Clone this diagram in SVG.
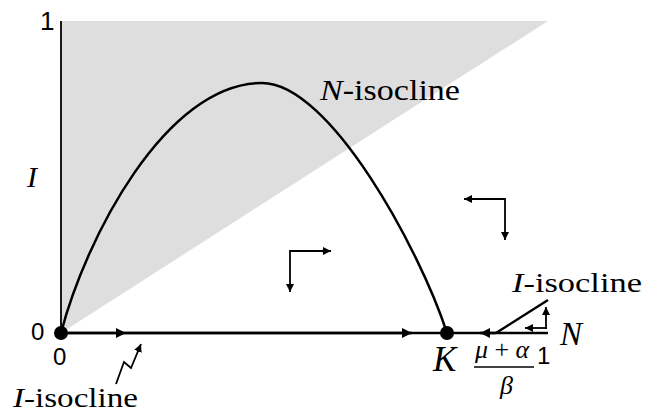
<svg xmlns="http://www.w3.org/2000/svg" width="647" height="414" viewBox="0 0 647 414">
<style>
.ln{stroke:#000;fill:none}
</style>
<defs>
<marker id="ah" viewBox="0 0 10 10" refX="10" refY="5" markerWidth="10" markerHeight="10" markerUnits="userSpaceOnUse" orient="auto">
<path d="M0,0 L10,5 L0,10 Z" fill="#000"/>
</marker>
<marker id="ahs" viewBox="0 0 10 10" refX="10" refY="5" markerWidth="8" markerHeight="8" markerUnits="userSpaceOnUse" orient="auto">
<path d="M0,0 L10,5 L0,10 Z" fill="#000"/>
</marker>
</defs>
<rect width="647" height="414" fill="#fff"/>
<polygon id="region" points="61,21 548,21 61,333" fill="#dedede"/>
<g id="axes">
<line class="ln" x1="61" y1="21" x2="61" y2="333" stroke-width="1.8"/>
<line class="ln" x1="61" y1="333" x2="548" y2="333" stroke-width="2.5"/>
</g>
<g id="n-isocline">
<path class="ln" stroke-width="2.5" d="M61,333 C85,240 165,83 262,83 C330,83 420,250 447,333"/>
</g>
<g id="i-isocline">
<line class="ln" x1="496" y1="333" x2="548" y2="300" stroke-width="2.5"/>
</g>
<g id="connectors">
<line class="ln" x1="61" y1="333" x2="126" y2="333" stroke-width="2.5" marker-end="url(#ah)"/>
<line class="ln" x1="126" y1="333" x2="412" y2="333" stroke-width="2.5" marker-end="url(#ah)"/>
<line class="ln" x1="496" y1="333" x2="480" y2="333" stroke-width="2.5" marker-end="url(#ah)"/>
<path class="ln" stroke-width="1.8" d="M290,251 L331,251" marker-end="url(#ahs)"/>
<path class="ln" stroke-width="1.8" d="M290,250 L290,292" marker-end="url(#ahs)"/>
<path class="ln" stroke-width="1.8" d="M505,199 L464,199" marker-end="url(#ahs)"/>
<path class="ln" stroke-width="1.8" d="M505,198 L505,240" marker-end="url(#ahs)"/>
<path class="ln" stroke-width="1.8" d="M547,328 L525,328" marker-end="url(#ahs)"/>
<path class="ln" stroke-width="1.8" d="M546,329 L546,307" marker-end="url(#ahs)"/>
<path class="ln" stroke-width="1.8" d="M116,384 L124,362 L131,368 L141,344" marker-end="url(#ahs)"/>
</g>
<g id="origin"><circle cx="61" cy="333" r="7" fill="#000"/></g>
<g id="K"><circle cx="447" cy="333" r="7" fill="#000"/></g>
<g id="labels" fill="#000">
<g font-family="'Liberation Sans', Arial, sans-serif">
<text x="40" y="30" font-size="26">1</text>
<text x="31" y="340" font-size="24">0</text>
<text x="53" y="365" font-size="24">0</text>
<text x="537" y="364" font-size="24">1</text>
</g>
<g font-family="'Liberation Serif', 'Times New Roman', serif">
<text x="27" y="187" font-size="30" font-style="italic">I</text>
<text x="320" y="100" font-size="30" textLength="140" lengthAdjust="spacingAndGlyphs"><tspan font-style="italic">N</tspan>-isocline</text>
<text x="512" y="292" font-size="28" textLength="130" lengthAdjust="spacingAndGlyphs"><tspan font-style="italic">I</tspan>-isocline</text>
<text x="13" y="407" font-size="28" textLength="125" lengthAdjust="spacingAndGlyphs"><tspan font-style="italic">I</tspan>-isocline</text>
<text x="560" y="345" font-size="33" font-style="italic">N</text>
<text x="433" y="371" font-size="35" font-style="italic">K</text>
<text x="475" y="358" font-size="26" textLength="54" lengthAdjust="spacingAndGlyphs"><tspan font-style="italic">μ</tspan> + <tspan font-style="italic">α</tspan></text>
<text x="500" y="394" font-size="26" font-style="italic">β</text>
</g>
<line class="ln" x1="474" y1="367" x2="534" y2="367" stroke-width="1.5"/>
</g>
</svg>
